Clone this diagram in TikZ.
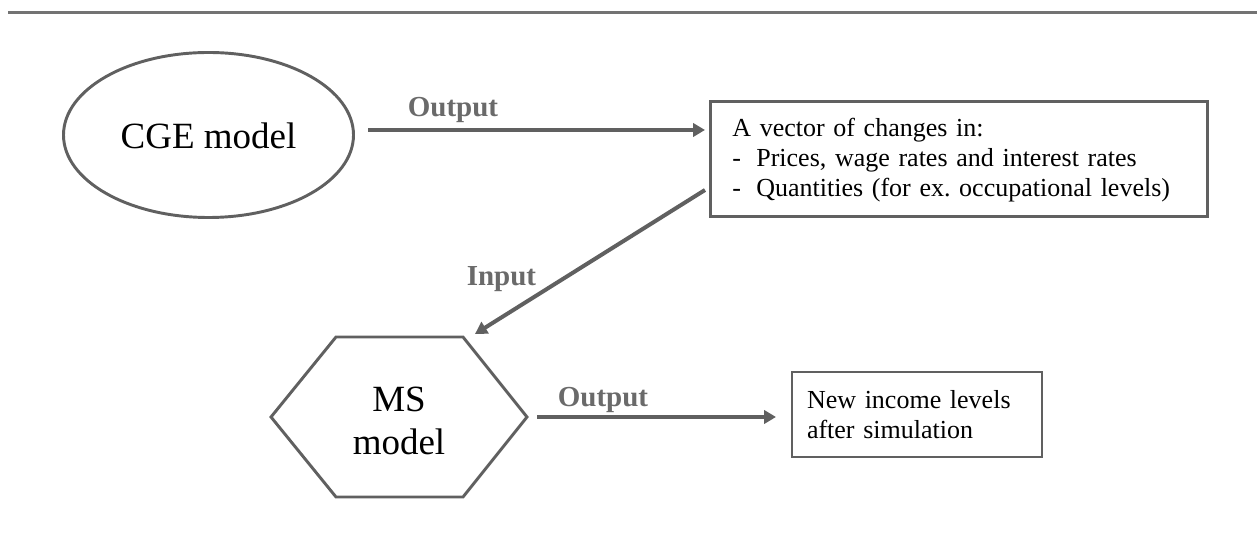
\documentclass[tikz,border=0pt]{standalone}
\usepackage{fontspec}
\setmainfont{Liberation Serif}
\usetikzlibrary{shapes.geometric,arrows.meta}
\definecolor{linegray}{HTML}{606060}
\definecolor{labelgray}{HTML}{6A6A6A}
\begin{document}
\frenchspacing
\begin{tikzpicture}[x=0.75pt,y=-0.75pt,
  bigtext/.style={font=\fontsize{27.75pt}{32.25pt}\selectfont, text=black},
  boxtext/.style={font=\fontsize{19.5pt}{22.5pt}\selectfont\frenchspacing, text=black},
  lbl/.style={font=\fontsize{21.75pt}{26pt}\selectfont\bfseries, text=labelgray, anchor=base, inner sep=0pt},
  shapeline/.style={draw=linegray, line width=2.2pt},
  infobox/.style={shapeline, rectangle, inner sep=0pt, align=left, boxtext},
  arr/.style={draw=linegray, line width=3pt, -{Triangle[length=9pt,width=10pt]}}
]
\useasboundingbox (0,0) rectangle (1257,548);
% top rule
\draw[draw=gray!90!black, line width=1.6pt] (8,12.5) -- (1257,12.5);

% CGE ellipse
\node[ellipse, shapeline, inner sep=0pt, minimum width=217.5pt, minimum height=123.75pt] (cge) at (208.5,135) {};
\node[bigtext, inner sep=0pt] (cgetext) at (208.5,135.5) {CGE model};

% vector box
\node[infobox, minimum width=372.75pt, minimum height=86.25pt, text width=340pt] (vec) at (959,159)
 {\rule{0pt}{16pt}A vector of changes in:\\
  \makebox[18pt][l]{-}Prices, wage rates and interest rates\\
  \makebox[18pt][l]{-}Quantities (for ex. occupational levels)};

% hexagon
\coordinate (hl) at (271,417);
\coordinate (htl) at (336,337);
\coordinate (htr) at (463,337);
\coordinate (hr) at (527,417);
\coordinate (hbr) at (463,497);
\coordinate (hbl) at (336,497);
\draw[shapeline, line join=miter] (hl) -- (htl) -- (htr) -- (hr) -- (hbr) -- (hbl) -- cycle;
\node[bigtext, align=center, inner sep=0pt] (ms) at (399,421) {MS\\model};

% income box
\node[infobox, minimum width=187.5pt, minimum height=63.75pt, text width=165pt] (inc) at (917,414.5)
 {New income levels\\after simulation};

% connectors
\coordinate (a1s) at (368,130);
\coordinate (a1e) at (705,130);
\draw[arr] (a1s) -- (a1e);
\node[lbl] (out1) at (453,117) {Output};

\coordinate (a2s) at (705,190);
\coordinate (a2e) at (475,334);
\draw[arr] (a2s) -- (a2e);
\node[lbl] (inp) at (501.5,286) {Input};

\coordinate (a3s) at (537,417);
\coordinate (a3e) at (776,417);
\draw[arr] (a3s) -- (a3e);
\node[lbl] (out2) at (603,407) {Output};
\end{tikzpicture}
\end{document}
